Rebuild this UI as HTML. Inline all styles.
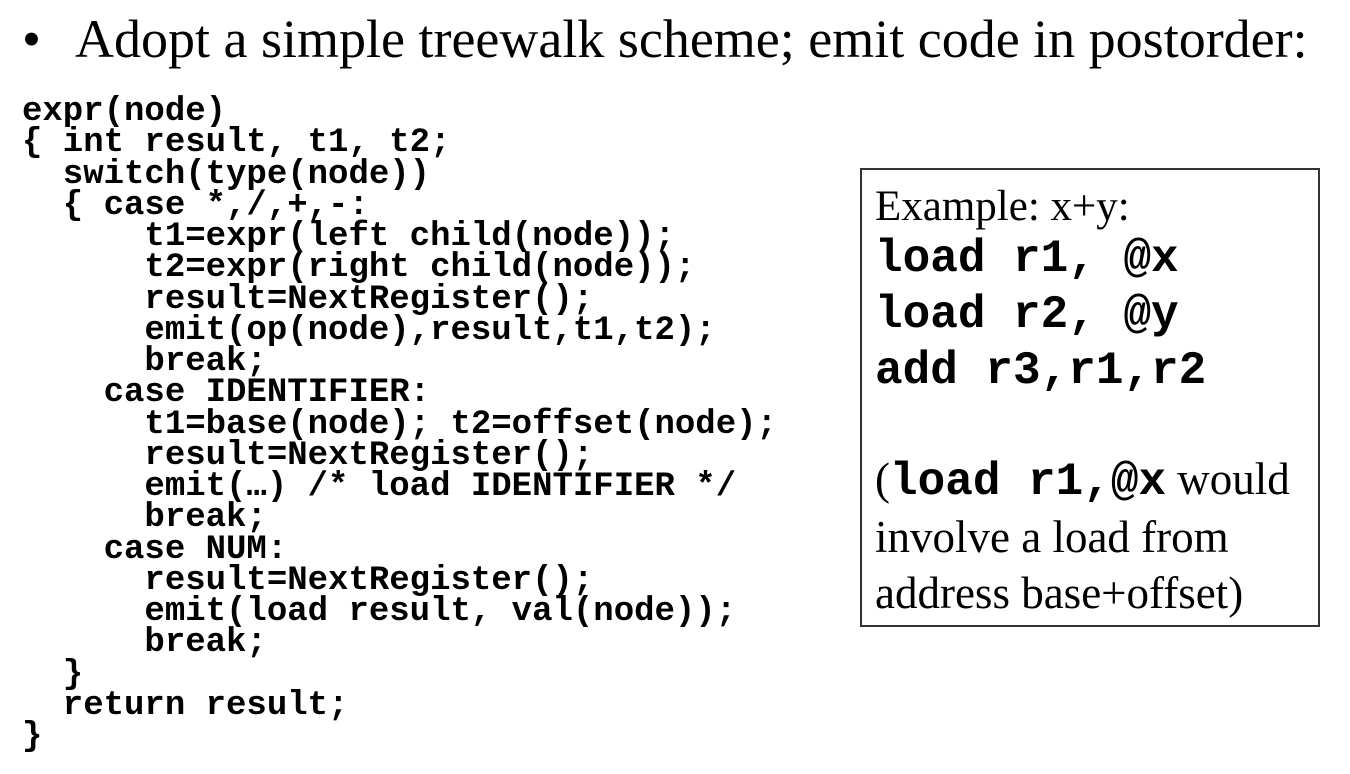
<!DOCTYPE html>
<html><head><meta charset="utf-8"><style>
body{margin:0;width:1350px;height:774px;background:#fff;position:relative;overflow:hidden;color:#000}
.t{position:absolute;left:75px;top:8px;font:54px "Liberation Serif",serif;white-space:pre}
.b{position:absolute;left:22px;top:8px;font:54px "Liberation Serif",serif}
pre{position:absolute;left:22px;top:97px;margin:0;font:bold 34px/31.25px "Liberation Mono",monospace}
.box{position:absolute;left:860px;top:168px;width:460px;height:459px;border:2px solid #333;box-sizing:border-box}
.l{position:absolute;left:875px;white-space:pre;font:43px "Liberation Serif",serif}
.m{font:bold 46px "Liberation Mono",monospace}
.p{font-size:45px}
</style></head><body>
<div class="b">•</div>
<div class="t">Adopt a simple treewalk scheme; emit code in postorder:</div>
<pre>expr(node)
{ int result, t1, t2;
  switch(type(node))
  { case *,/,+,-:
      t1=expr(left child(node));
      t2=expr(right child(node));
      result=NextRegister();
      emit(op(node),result,t1,t2);
      break;
    case IDENTIFIER:
      t1=base(node); t2=offset(node);
      result=NextRegister();
      emit(…) /* load IDENTIFIER */
      break;
    case NUM:
      result=NextRegister();
      emit(load result, val(node));
      break;
  }
  return result;
}</pre>
<div class="box"></div>
<div class="l" style="top:182px">Example: x+y:</div>
<div class="l m" style="top:233px">load r1, @x</div>
<div class="l m" style="top:289px">load r2, @y</div>
<div class="l m" style="top:345px">add r3,r1,r2</div>
<div class="l p" style="top:453px">(<span class="m">load r1,@x</span> would</div>
<div class="l p" style="top:511px">involve a load from</div>
<div class="l p" style="top:567px">address base+offset)</div>
</body></html>
